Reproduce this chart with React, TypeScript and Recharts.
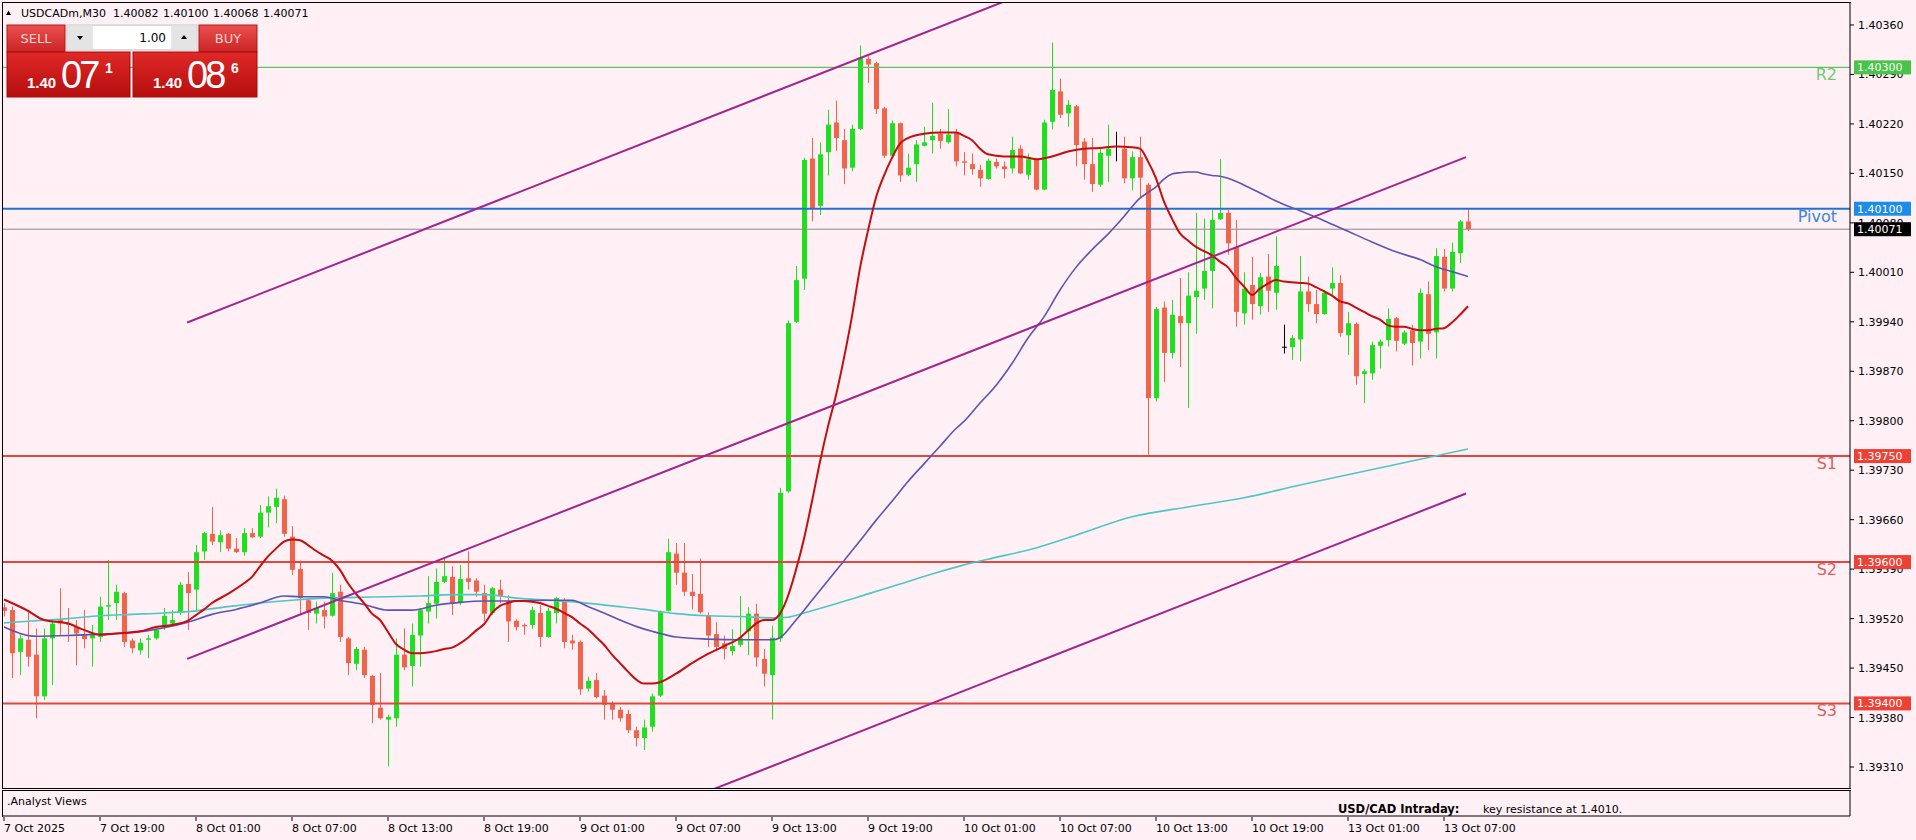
import React from 'react';
import { ComposedChart, Bar, Line, XAxis, YAxis, ReferenceLine } from 'recharts';

const FONT = '"DejaVu Sans", Verdana, sans-serif';
const BG = '#fff0f5';
const BULL = '#1fe01f';
const BEAR = '#f0644c';

// ---- candles (M30 bars, 7 Oct 13:00 .. 13 Oct 08:30) ----
const opens = [
  1.39536,1.39532,1.39473,1.39490,1.39469,1.39410,1.39492,1.39518,1.39513,1.39508,
  1.39497,1.39492,1.39494,1.39537,1.39542,1.39556,1.39489,1.39475,1.39490,1.39492,
  1.39509,1.39513,1.39528,1.39569,1.39561,1.39615,1.39640,1.39628,1.39640,1.39619,
  1.39614,1.39641,1.39636,1.39670,1.39678,1.39689,1.39636,1.39590,1.39546,1.39527,
  1.39532,1.39524,1.39558,1.39492,1.39456,1.39476,1.39439,1.39394,1.39377,1.39379,
  1.39469,1.39453,1.39496,1.39530,1.39541,1.39572,1.39579,1.39542,1.39577,1.39574,
  1.39556,1.39528,1.39561,1.39545,1.39517,1.39511,1.39511,1.39528,1.39494,1.39528,
  1.39545,1.39489,1.39487,1.39421,1.39433,1.39411,1.39399,1.39391,1.39385,1.39362,
  1.39351,1.39367,1.39411,1.39531,1.39612,1.39585,1.39558,1.39555,1.39525,1.39498,
  1.39485,1.39474,1.39483,1.39502,1.39527,1.39463,1.39440,1.39492,1.39700,1.39940,
  1.40001,1.40171,1.40104,1.40180,1.40222,1.40197,1.40158,1.40213,1.40312,1.40306,
  1.40242,1.40175,1.40221,1.40148,1.40163,1.40189,1.40197,1.40206,1.40194,1.40208,
  1.40167,1.40163,1.40155,1.40142,1.40166,1.40160,1.40157,1.40185,1.40148,1.40170,
  1.40127,1.40223,1.40266,1.40235,1.40245,1.40195,1.40163,1.40134,1.40175,1.40188,
  1.40185,1.40143,1.40173,1.40134,1.39832,1.39960,1.39896,1.39948,1.39938,1.39975,
  1.39987,1.40012,1.40085,1.40094,1.40046,1.39952,1.39992,1.39962,1.40004,1.39981,
  1.39904,1.39904,1.39915,1.39983,1.39965,1.39951,1.39987,1.39995,1.39921,1.39937,
  1.39866,1.39867,1.39906,1.39914,1.39945,1.39909,1.39928,1.39912,1.39979,1.39925,
  1.40032,1.39987,1.40037,1.40082,
];
const highs = [
  1.39542,1.39537,1.39497,1.39532,1.39506,1.39506,1.39518,1.39563,1.39535,1.39518,
  1.39532,1.39511,1.39551,1.39603,1.39568,1.39558,1.39492,1.39492,1.39497,1.39506,
  1.39535,1.39532,1.39572,1.39586,1.39624,1.39643,1.39678,1.39645,1.39641,1.39634,
  1.39648,1.39648,1.39681,1.39693,1.39704,1.39694,1.39651,1.39602,1.39549,1.39544,
  1.39544,1.39585,1.39568,1.39494,1.39480,1.39480,1.39440,1.39443,1.39384,1.39492,
  1.39506,1.39513,1.39535,1.39580,1.39591,1.39605,1.39594,1.39596,1.39615,1.39577,
  1.39568,1.39565,1.39575,1.39553,1.39519,1.39513,1.39537,1.39539,1.39535,1.39551,
  1.39549,1.39497,1.39489,1.39438,1.39443,1.39419,1.39403,1.39395,1.39391,1.39367,
  1.39377,1.39414,1.39531,1.39633,1.39627,1.39627,1.39583,1.39605,1.39529,1.39515,
  1.39496,1.39505,1.39552,1.39536,1.39541,1.39477,1.39510,1.39705,1.39942,1.40019,
  1.40172,1.40200,1.40194,1.40240,1.40253,1.40213,1.40219,1.40331,1.40316,1.40308,
  1.40244,1.40225,1.40222,1.40178,1.40197,1.40216,1.40250,1.40213,1.40241,1.40213,
  1.40180,1.40178,1.40162,1.40171,1.40171,1.40167,1.40202,1.40190,1.40178,1.40171,
  1.40226,1.40335,1.40284,1.40254,1.40247,1.40200,1.40200,1.40185,1.40219,1.40209,
  1.40202,1.40181,1.40202,1.40136,1.39961,1.39969,1.39971,1.40002,1.40010,1.40094,
  1.40086,1.40098,1.40170,1.40098,1.40084,1.40010,1.40032,1.40009,1.40036,1.40061,
  1.39936,1.39921,1.40033,1.40004,1.39985,1.39985,1.40017,1.40006,1.39954,1.39939,
  1.39873,1.39912,1.39915,1.39959,1.39947,1.39928,1.39936,1.39987,1.39997,1.40044,
  1.40043,1.40052,1.40084,1.40100,
];
const lows = [
  1.39523,1.39436,1.39440,1.39452,1.39379,1.39405,1.39426,1.39497,1.39487,1.39454,
  1.39478,1.39452,1.39487,1.39518,1.39518,1.39480,1.39471,1.39469,1.39464,1.39490,
  1.39504,1.39511,1.39525,1.39504,1.39530,1.39603,1.39624,1.39614,1.39615,1.39613,
  1.39609,1.39634,1.39634,1.39649,1.39655,1.39636,1.39582,1.39525,1.39504,1.39513,
  1.39506,1.39523,1.39487,1.39440,1.39447,1.39436,1.39372,1.39377,1.39311,1.39367,
  1.39447,1.39424,1.39452,1.39513,1.39520,1.39570,1.39525,1.39539,1.39561,1.39551,
  1.39516,1.39525,1.39542,1.39487,1.39503,1.39497,1.39505,1.39480,1.39493,1.39513,
  1.39478,1.39476,1.39412,1.39417,1.39407,1.39377,1.39377,1.39374,1.39358,1.39339,
  1.39334,1.39360,1.39409,1.39530,1.39568,1.39552,1.39533,1.39527,1.39480,1.39474,
  1.39462,1.39468,1.39480,1.39468,1.39452,1.39424,1.39377,1.39487,1.39698,1.39938,
  1.39985,1.40082,1.40091,1.40147,1.40182,1.40135,1.40153,1.40211,1.40278,1.40234,
  1.40172,1.40172,1.40138,1.40146,1.40138,1.40188,1.40178,1.40185,1.40192,1.40160,
  1.40147,1.40148,1.40131,1.40141,1.40157,1.40143,1.40150,1.40149,1.40141,1.40126,
  1.40126,1.40212,1.40228,1.40216,1.40160,1.40141,1.40124,1.40131,1.40138,1.40167,
  1.40136,1.40126,1.40115,1.39752,1.39827,1.39855,1.39888,1.39876,1.39818,1.39923,
  1.39971,1.39959,1.40084,1.40035,1.39933,1.39936,1.39943,1.39950,1.39954,1.39957,
  1.39895,1.39886,1.39884,1.39954,1.39938,1.39950,1.39978,1.39919,1.39893,1.39851,
  1.39825,1.39858,1.39874,1.39905,1.39898,1.39907,1.39878,1.39888,1.39900,1.39888,
  1.39983,1.39983,1.40023,1.40068,
];
const closes = [
  1.39531,1.39471,1.39492,1.39466,1.39410,1.39492,1.39513,1.39513,1.39512,1.39499,
  1.39491,1.39497,1.39537,1.39539,1.39558,1.39487,1.39478,1.39486,1.39492,1.39504,
  1.39524,1.39518,1.39568,1.39556,1.39614,1.39641,1.39629,1.39638,1.39619,1.39614,
  1.39641,1.39635,1.39670,1.39679,1.39691,1.39640,1.39589,1.39549,1.39528,1.39535,
  1.39523,1.39556,1.39494,1.39457,1.39477,1.39440,1.39398,1.39379,1.39381,1.39469,
  1.39451,1.39497,1.39532,1.39542,1.39572,1.39580,1.39542,1.39576,1.39572,1.39558,
  1.39527,1.39563,1.39552,1.39516,1.39508,1.39509,1.39532,1.39494,1.39531,1.39549,
  1.39487,1.39485,1.39420,1.39432,1.39409,1.39398,1.39391,1.39379,1.39362,1.39351,
  1.39366,1.39410,1.39529,1.39614,1.39585,1.39558,1.39552,1.39529,1.39496,1.39480,
  1.39477,1.39481,1.39493,1.39527,1.39465,1.39442,1.39493,1.39698,1.39938,1.39999,
  1.40169,1.40100,1.40177,1.40219,1.40200,1.40157,1.40213,1.40314,1.40304,1.40241,
  1.40175,1.40221,1.40147,1.40158,1.40191,1.40194,1.40203,1.40196,1.40205,1.40167,
  1.40165,1.40156,1.40143,1.40168,1.40160,1.40156,1.40183,1.40150,1.40170,1.40127,
  1.40222,1.40268,1.40233,1.40247,1.40190,1.40163,1.40135,1.40179,1.40185,1.40188,
  1.40143,1.40173,1.40144,1.39832,1.39958,1.39896,1.39950,1.39938,1.39977,1.39984,
  1.40012,1.40084,1.40094,1.40051,1.39954,1.39987,1.39965,1.40003,1.39984,1.40019,
  1.39904,1.39917,1.39983,1.39965,1.39951,1.39981,1.39995,1.39924,1.39938,1.39863,
  1.39870,1.39907,1.39912,1.39944,1.39913,1.39925,1.39910,1.39981,1.39923,1.40033,
  1.39987,1.40039,1.40082,1.40071,
];

// ---- time axis ----
const timeTickBars = [0, 12, 24, 36, 48, 60, 72, 84, 96, 108, 120, 132, 144, 156, 168, 180];
const timeTickLabels = [
  '7 Oct 2025', '7 Oct 19:00', '8 Oct 01:00', '8 Oct 07:00', '8 Oct 13:00', '8 Oct 19:00',
  '9 Oct 01:00', '9 Oct 07:00', '9 Oct 13:00', '9 Oct 19:00', '10 Oct 01:00', '10 Oct 07:00',
  '10 Oct 13:00', '10 Oct 19:00', '13 Oct 01:00', '13 Oct 07:00',
];

// ---- price axis & levels ----
const priceTicks = [1.4036, 1.4029, 1.4022, 1.4015, 1.4008, 1.4001, 1.3994, 1.3987, 1.398, 1.3973, 1.3966, 1.3959, 1.3952, 1.3945, 1.3938, 1.3931];
const levelNames = ['R2', 'Pivot', 'S1', 'S2', 'S3'];
const levelValues = [1.403, 1.401, 1.3975, 1.396, 1.394];
const lastPrice = 1.40071;
const headerSymbol = 'USDCADm,M30';
const headerOHLC = ['1.40082', '1.40100', '1.40068', '1.40071'];

// ---- moving averages (read at sample bars) ----
const fastMaBars = [0,3,5,8,10,12,14,17,19,21,23,24,25,26,28,30,31,32,33,34,35,36,37,38,39,40,41,42,43,44,45,46,47,48,49,50,51,52,53,54,55,56,57,58,59,60,61,62,63,64,65,66,67,68,69,70,71,72,73,74,75,76,77,78,79,80,81,82,84,86,88,90,92,93,94,95,96,97,98,99,100,101,102,103,104,105,106,107,108,109,110,111,112,113,115,117,119,120,121,122,123,125,127,129,131,133,135,137,139,141,142,143,144,145,146,147,148,149,150,151,152,153,154,155,156,157,158,159,160,162,163,164,165,166,167,168,169,170,171,172,173,174,175,176,177,178,179,180,181,182,183];
const fastMaValues = [1.39547,1.39531,1.39518,1.39513,1.39504,1.39497,1.39499,1.39502,1.39508,1.39511,1.39517,1.39525,1.39533,1.39542,1.39555,1.3957,1.39579,1.39594,1.39608,1.39619,1.39629,1.39632,1.39631,1.39624,1.39616,1.39609,1.39602,1.39589,1.3957,1.39555,1.39542,1.39527,1.39518,1.39501,1.39484,1.39476,1.39471,1.39471,1.39472,1.39474,1.39477,1.39479,1.39485,1.39493,1.39503,1.39512,1.39528,1.39538,1.39542,1.39545,1.39545,1.39544,1.39542,1.39538,1.39534,1.39528,1.39522,1.39513,1.39505,1.39494,1.39483,1.39469,1.39457,1.39445,1.39434,1.39428,1.39428,1.3943,1.39442,1.39457,1.3947,1.39481,1.39493,1.39503,1.39513,1.39518,1.39518,1.39527,1.39552,1.39589,1.39633,1.39686,1.39742,1.39792,1.39836,1.39889,1.39948,1.40016,1.40069,1.40116,1.40147,1.40172,1.40192,1.402,1.40206,1.40208,1.40208,1.40203,1.40197,1.40185,1.40177,1.40174,1.40174,1.4017,1.40174,1.40181,1.40185,1.40186,1.40188,1.40187,1.40185,1.40167,1.40143,1.4011,1.40086,1.40065,1.40055,1.40046,1.4004,1.40034,1.40025,1.40017,1.40002,1.3999,1.39978,1.39987,1.39994,1.39999,1.39997,1.39995,1.39994,1.39989,1.39983,1.39977,1.39969,1.39966,1.3996,1.39954,1.39948,1.39943,1.39935,1.39933,1.39933,1.3993,1.39928,1.39928,1.3993,1.39931,1.39939,1.3995,1.39962];
const midMaBars = [0,4,8,12,16,20,23,26,29,32,35,37,40,42,45,48,51,54,57,60,64,68,71,73,75,77,79,81,84,88,92,96,97,99,101,103,105,107,109,111,113,115,117,119,120,122,124,126,128,130,132,134,136,138,140,142,143,144,145,146,147,148,149,150,151,152,153,156,159,162,165,168,171,174,177,179,181,183];
const midMaValues = [1.39508,1.39495,1.39496,1.39498,1.395,1.39507,1.39515,1.39526,1.39533,1.39542,1.39552,1.39551,1.39551,1.39546,1.3954,1.39532,1.39532,1.39539,1.39543,1.39545,1.39545,1.39546,1.39546,1.39537,1.39528,1.39518,1.39509,1.39502,1.39494,1.39491,1.3949,1.3949,1.39493,1.39518,1.39546,1.39574,1.39602,1.3963,1.39659,1.39686,1.39714,1.39739,1.39764,1.39789,1.39799,1.39825,1.3985,1.39881,1.39917,1.39947,1.39985,1.40017,1.40042,1.40064,1.40089,1.40115,1.40123,1.40131,1.40142,1.40149,1.40151,1.40152,1.40152,1.40149,1.40147,1.40146,1.40143,1.40128,1.40111,1.40097,1.40083,1.40068,1.40053,1.40039,1.40028,1.40018,1.40011,1.40004];
const slowMaBars = [0,4,8,12,16,20,24,28,32,36,40,44,48,52,56,60,64,68,72,76,80,84,88,92,96,98,100,104,108,112,116,120,123,129,134,141,148,155,162,169,176,183];
const slowMaValues = [1.39514,1.39517,1.3952,1.39524,1.39526,1.39528,1.39531,1.39537,1.39542,1.39546,1.39549,1.3955,1.39551,1.39552,1.39554,1.39554,1.39549,1.39546,1.39543,1.39538,1.39533,1.39527,1.39524,1.39523,1.39521,1.39522,1.39528,1.39541,1.39555,1.39569,1.39583,1.39596,1.39604,1.3962,1.39638,1.39664,1.39678,1.39691,1.39709,1.39726,1.39743,1.3976];

// ---- equidistant channel (bar index, price) ----
const channelBars = [22.9, 182.75];
const channelUpper = [1.39939, 1.4065];
const channelMiddle = [1.39463, 1.40173];
const channelLower = [1.38986, 1.39697];

// ---- styles ----
const levelLineColors = ['#5cc45c', '#2272cc', '#e2463c', '#e2463c', '#e2463c'];
const levelLineWidths = [1.2, 2, 2, 2, 2];
const levelTextColors = ['#72c972', '#3a86d6', '#d85f5b', '#d85f5b', '#d85f5b'];
const levelBoxColors = ['#48c448', '#1c8ce8', '#ee4136', '#ee4136', '#ee4136'];

const rows: any[] = opens.map((o, i) => ({
  i,
  open: o,
  high: highs[i],
  low: lows[i],
  close: closes[i],
  range: [lows[i], highs[i]],
}));
fastMaBars.forEach((b, k) => { rows[b].fast = fastMaValues[k]; });
midMaBars.forEach((b, k) => { rows[b].mid = midMaValues[k]; });
slowMaBars.forEach((b, k) => { rows[b].slow = slowMaValues[k]; });

const X_DOMAIN: [number, number] = [-0.125, 230.75];
const Y_DOMAIN: [number, number] = [1.392803, 1.403911];

const Candle = (props: any) => {
  const { x, y, width, height, payload } = props;
  if (!payload || x == null || y == null) return null;
  const { open, close, high, low } = payload;
  const top = Math.min(y, y + height);
  const h = Math.abs(height);
  const k = high > low ? h / (high - low) : 0;
  const cx = Math.round(x + width / 2) + 0.5;
  const yO = top + (high - open) * k;
  const yC = top + (high - close) * k;
  const bull = close > open;
  const bear = close < open;
  const color = bull ? BULL : bear ? BEAR : '#000';
  const bTop = Math.min(yO, yC);
  const bH = Math.max(Math.abs(yC - yO), 1);
  return (
    <g>
      <line x1={cx} x2={cx} y1={top} y2={top + h} stroke={color} strokeWidth={1} />
      {bull || bear ? (
        <rect x={cx - 2.5} y={bTop} width={5} height={bH} fill={color} />
      ) : (
        <line x1={cx - 2.5} x2={cx + 2.5} y1={yO} y2={yO} stroke={color} strokeWidth={1} />
      )}
    </g>
  );
};

const PriceTick = (props: any) => {
  const { x, y, payload } = props;
  const v = payload.value;
  const li = levelValues.indexOf(v);
  if (v === lastPrice || li >= 0) {
    const fill = v === lastPrice ? '#000' : levelBoxColors[li];
    return (
      <g>
        <rect x={x + 4} y={y - 7} width={57} height={14} fill={fill} />
        <text x={x + 7} y={y + 4} fontSize={11} fill="#fff" fontFamily={FONT}>{v.toFixed(5)}</text>
      </g>
    );
  }
  return (
    <g>
      <line x1={x} x2={x + 4} y1={y} y2={y} stroke="#000" />
      <text x={x + 8} y={y + 4} fontSize={11} fill="#000" fontFamily={FONT}>{v.toFixed(5)}</text>
    </g>
  );
};

const LevelLabel = (props: any) => {
  const vb = props.viewBox || {};
  const right = (vb.x ?? 3) + (vb.width ?? 1847) - 13;
  return (
    <text x={right} y={(vb.y ?? 0) + 13} textAnchor="end" fontSize={16} fill={props.color} fontFamily={FONT}>
      {props.name}
    </text>
  );
};

const TimeTick = (props: any) => {
  const { x, y, payload } = props;
  const idx = timeTickBars.indexOf(payload.value);
  return (
    <g>
      <line x1={x} x2={x} y1={y + 1} y2={y + 5} stroke="#000" />
      <text x={x} y={y + 16} fontSize={11} fill="#000" fontFamily={FONT}>{timeTickLabels[idx]}</text>
    </g>
  );
};

const PanelTick = (props: any) => {
  const { x, y, payload } = props;
  const v = payload.value;
  return (
    <text x={x + 6} y={v === 1 ? y + 11 : y - 6} fontSize={9} fill="#000" fontFamily={FONT}>{String(v)}</text>
  );
};

const ARIAL = '"Liberation Sans", Arial, sans-serif';

const TradePanel = () => (
  <svg width={330} height={110} style={{ position: 'absolute', left: 0, top: 0 }}>
    <defs>
      <linearGradient id="btn" x1="0" y1="0" x2="0" y2="1">
        <stop offset="0" stopColor="#ea5050" />
        <stop offset="1" stopColor="#cc2424" />
      </linearGradient>
      <linearGradient id="big" x1="0" y1="0" x2="0" y2="1">
        <stop offset="0" stopColor="#e02828" />
        <stop offset="1" stopColor="#b50e0e" />
      </linearGradient>
    </defs>
    <polygon points="6,15 8.5,10.5 11,15" fill="#000" />
    <text x={21} y={17} fontSize={11} fontFamily={FONT} fill="#000">{headerSymbol}</text>
    {headerOHLC.map((t, k) => (
      <text key={t + k} x={113 + 50 * k} y={17} fontSize={11} fontFamily={FONT} fill="#000">{t}</text>
    ))}

    <rect x={7} y={25} width={58} height={27} fill="url(#btn)" stroke="#b01818" />
    <text x={36} y={43} textAnchor="middle" fontSize={13} fontFamily={FONT} fill="#ffd2d2">SELL</text>
    <rect x={67} y={25} width={130} height={25} fill="#ececec" stroke="#c8c8c8" />
    <rect x={67.5} y={25.5} width={25} height={24} fill="#e4e4e4" />
    <polygon points="77,36 83,36 80,40" fill="#000" />
    <rect x={93} y={26} width={78} height={23} fill="#fff" />
    <text x={166} y={42} textAnchor="end" fontSize={12} fontFamily={FONT} fill="#000">1.00</text>
    <rect x={171.5} y={25.5} width={25} height={24} fill="#e4e4e4" />
    <polygon points="181,39 187,39 184,35" fill="#000" />
    <rect x={199} y={25} width={58} height={27} fill="url(#btn)" stroke="#b01818" />
    <text x={228} y={43} textAnchor="middle" fontSize={13} fontFamily={FONT} fill="#ffd2d2">BUY</text>

    <rect x={7} y={52} width={123} height={45} fill="url(#big)" stroke="#a20c0c" />
    <text x={27} y={88} fontSize={15} fontWeight="bold" fontFamily={ARIAL} fill="#fff">1.40</text>
    <text x={61} y={88} fontSize={38} letterSpacing={-3} fontFamily={ARIAL} fill="#fff">07</text>
    <text x={105} y={73} fontSize={14} fontWeight="bold" fontFamily={ARIAL} fill="#fff">1</text>
    <rect x={133} y={52} width={124} height={45} fill="url(#big)" stroke="#a20c0c" />
    <text x={153} y={88} fontSize={15} fontWeight="bold" fontFamily={ARIAL} fill="#fff">1.40</text>
    <text x={187} y={88} fontSize={38} letterSpacing={-3} fontFamily={ARIAL} fill="#fff">08</text>
    <text x={231} y={73} fontSize={14} fontWeight="bold" fontFamily={ARIAL} fill="#fff">6</text>
  </svg>
);

export default function App() {
  return (
    <div style={{ position: 'absolute', left: 0, top: 0, width: 1916, height: 840, background: BG, fontFamily: FONT, overflow: 'hidden' }}>
      <div style={{ position: 'absolute', left: 0, top: 0 }}>
        <ComposedChart width={1916} height={791} data={rows} margin={{ top: 3, right: 0, bottom: 3, left: 3 }}>
          <XAxis dataKey="i" type="number" domain={X_DOMAIN} allowDataOverflow hide />
          <YAxis
            orientation="right"
            type="number"
            width={66}
            domain={Y_DOMAIN}
            allowDataOverflow
            ticks={[...priceTicks, ...levelValues, lastPrice]}
            interval={0}
            tick={<PriceTick />}
            tickLine={false}
            tickSize={0}
            tickMargin={0}
            axisLine={{ stroke: '#000' }}
          />
          {levelValues.map((v, k) => (
            <ReferenceLine
              key={levelNames[k]}
              y={v}
              stroke={levelLineColors[k]}
              strokeWidth={levelLineWidths[k]}
              ifOverflow="hidden"
              label={<LevelLabel name={levelNames[k]} color={levelTextColors[k]} />}
            />
          ))}
          <ReferenceLine y={lastPrice} stroke="#8a8a8a" strokeWidth={1} ifOverflow="hidden" />
          <Bar dataKey="range" shape={<Candle />} barSize={5} isAnimationActive={false} />
          <Line dataKey="slow" type="monotone" stroke="#4fc6c6" strokeWidth={1.6} dot={false} connectNulls isAnimationActive={false} />
          <Line dataKey="mid" type="monotone" stroke="#5c54b4" strokeWidth={1.6} dot={false} connectNulls isAnimationActive={false} />
          <Line dataKey="fast" type="monotone" stroke="#c40d0d" strokeWidth={2} dot={false} connectNulls isAnimationActive={false} />
          <ReferenceLine
            segment={[{ x: channelBars[0], y: channelUpper[0] }, { x: channelBars[1], y: channelUpper[1] }]}
            stroke="#a3228e" strokeWidth={2} ifOverflow="hidden"
          />
          <ReferenceLine
            segment={[{ x: channelBars[0], y: channelMiddle[0] }, { x: channelBars[1], y: channelMiddle[1] }]}
            stroke="#a3228e" strokeWidth={2} ifOverflow="hidden"
          />
          <ReferenceLine
            segment={[{ x: channelBars[0], y: channelLower[0] }, { x: channelBars[1], y: channelLower[1] }]}
            stroke="#a3228e" strokeWidth={2} ifOverflow="hidden"
          />
        </ComposedChart>
      </div>

      <div style={{ position: 'absolute', left: 0, top: 788 }}>
        <ComposedChart width={1916} height={52} data={rows} margin={{ top: 3, right: 0, bottom: 0, left: 3 }}>
          <XAxis
            dataKey="i"
            type="number"
            domain={X_DOMAIN}
            allowDataOverflow
            ticks={timeTickBars}
            interval={0}
            height={24}
            tick={<TimeTick />}
            tickLine={false}
            tickSize={0}
            tickMargin={0}
            axisLine={{ stroke: '#000' }}
          />
          <YAxis
            orientation="right"
            type="number"
            width={66}
            domain={[0, 1]}
            ticks={[0, 1]}
            interval={0}
            tick={<PanelTick />}
            tickLine={false}
            tickSize={0}
            tickMargin={0}
            axisLine={{ stroke: '#000' }}
          />
        </ComposedChart>
      </div>

      {/* frames */}
      <div style={{ position: 'absolute', left: 2, top: 2, width: 1849, height: 787, borderLeft: '1px solid #000', borderTop: '1px solid #000', borderBottom: '1px solid #000', boxSizing: 'border-box', pointerEvents: 'none' }} />
      <div style={{ position: 'absolute', left: 2, top: 790, width: 1849, height: 27, borderLeft: '1px solid #000', borderTop: '1px solid #000', boxSizing: 'border-box', pointerEvents: 'none' }} />

      {/* indicator panel texts */}
      <div style={{ position: 'absolute', left: 7, top: 795, fontSize: 11, lineHeight: '13px', color: '#000', whiteSpace: 'nowrap' }}>.Analyst Views</div>
      <div style={{ position: 'absolute', left: 1338, top: 803, fontSize: 11.5, fontWeight: 'bold', lineHeight: '13px', color: '#000', whiteSpace: 'nowrap' }}>USD/CAD Intraday:</div>
      <div style={{ position: 'absolute', left: 1483, top: 803, fontSize: 11, lineHeight: '13px', color: '#000', whiteSpace: 'nowrap' }}>key resistance at 1.4010.</div>

      <TradePanel />
    </div>
  );
}
